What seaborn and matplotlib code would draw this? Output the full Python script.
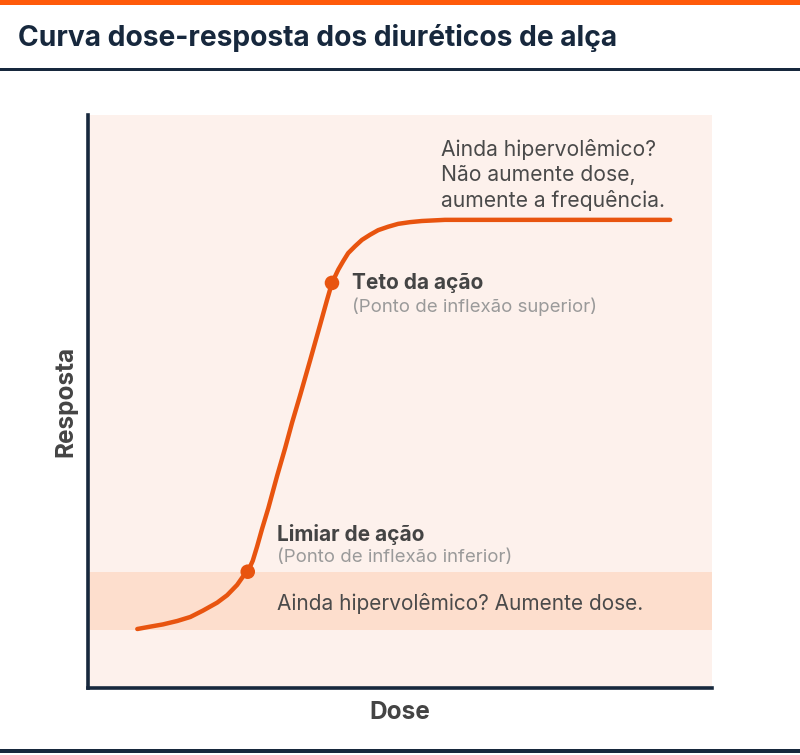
import matplotlib
matplotlib.use("Agg")
import matplotlib.pyplot as plt
import seaborn as sns
import pandas as pd

# ---- data ----
dose = [7.9, 9.9, 12.0, 14.3, 16.4, 18.4, 20.7, 22.3, 23.9, 24.8, 25.6, 26.4, 27.1,
        27.9, 28.9, 30.3, 31.6, 32.7, 34.0, 35.6, 37.2, 38.3, 39.1, 40.1, 40.9,
        41.7, 42.8, 43.9, 45.2, 46.5, 48.1, 49.7, 51.6, 53.5, 57.2, 93.3]
resposta = [10.3, 10.7, 11.1, 11.7, 12.4, 13.5, 14.9, 16.2, 18.0, 19.4, 20.3, 22.2, 24.7,
            27.8, 31.4, 37.0, 41.9, 46.3, 51.1, 57.2, 63.4, 67.7, 70.7, 73.0, 74.5,
            75.9, 77.1, 78.2, 79.1, 79.9, 80.5, 81.0, 81.3, 81.5, 81.7, 81.7]
marker_dose = [25.6, 39.1]
marker_resp = [20.3, 70.7]
band_low, band_high = 10.1, 20.2

title = "Curva dose-resposta dos diuréticos de alça"
xlabel = "Dose"
ylabel = "Resposta"
lbl_teto = "Teto da ação"
lbl_teto_sub = "(Ponto de inflexão superior)"
lbl_limiar = "Limiar de ação"
lbl_limiar_sub = "(Ponto de inflexão inferior)"
note_low = "Ainda hipervolêmico? Aumente dose."
note_high = "Ainda hipervolêmico?\nNão aumente dose,\naumente a frequência."

ORANGE = "#E8540F"
NAVY = "#17283D"
BG = "#FDF1EC"
BAND = "#FDDECD"
DARK = "#444444"
GRAY = "#9A9A9A"

sns.set_theme(style="white")
plt.rcParams["font.family"] = ["Inter", "DejaVu Sans"]

fig = plt.figure(figsize=(8, 7.55), dpi=100)
ax = fig.add_axes([0.11, 0.0887, 0.78, 0.759])
ax.set_facecolor(BG)
ax.set_xlim(0, 100)
ax.set_ylim(0, 100)

ax.axhspan(band_low, band_high, color=BAND, lw=0, zorder=0)

df = pd.DataFrame({"dose": dose, "resposta": resposta})
sns.lineplot(data=df, x="dose", y="resposta", ax=ax, color=ORANGE, lw=3.2,
             sort=False, estimator=None, solid_capstyle="round", solid_joinstyle="round", zorder=3)
mk = pd.DataFrame({"dose": marker_dose, "resposta": marker_resp})
sns.scatterplot(data=mk, x="dose", y="resposta", ax=ax, color=ORANGE, s=110,
                edgecolor="none", zorder=4)

for s in ["top", "right"]:
    ax.spines[s].set_visible(False)
for s in ["left", "bottom"]:
    ax.spines[s].set_color(NAVY)
    ax.spines[s].set_linewidth(2.6)
ax.set_xticks([])
ax.set_yticks([])
ax.set_xlabel(xlabel, fontsize=17.5, fontweight="bold", color=DARK, labelpad=9)
ax.set_ylabel(ylabel, fontsize=17.5, fontweight="bold", color=DARK, labelpad=8)

def px(x, y):
    return ((x - 88) / 6.24, (688 - y) / 5.73)

ax.text(*px(352, 283), lbl_teto, fontsize=15, fontweight="bold", color=DARK, va="center", ha="left")
ax.text(*px(352, 307), lbl_teto_sub, fontsize=13.4, color=GRAY, va="center", ha="left")
ax.text(*px(277, 534), lbl_limiar, fontsize=15, fontweight="bold", color=DARK, va="center", ha="left")
ax.text(*px(277, 557), lbl_limiar_sub, fontsize=13.4, color=GRAY, va="center", ha="left")
ax.text(*px(277, 603), note_low, fontsize=15, color="#4A4A4A", va="center", ha="left")
ax.text(*px(441, 139), note_high, fontsize=15.2, color="#4A4A4A", va="top", ha="left", linespacing=1.3)

# header
fig.patches.append(plt.Rectangle((0, 1 - 5 / 755), 1, 5 / 755, transform=fig.transFigure,
                                 color="#FF5A0A", lw=0))
fig.patches.append(plt.Rectangle((0, 1 - 71 / 755), 1, 3 / 755, transform=fig.transFigure,
                                 color=NAVY, lw=0))
fig.patches.append(plt.Rectangle((0, 1 - 753 / 755), 1, 4 / 755, transform=fig.transFigure,
                                 color=NAVY, lw=0))
fig.text(18 / 800, 1 - 38 / 755, title, fontsize=20.3, fontweight="bold", color=NAVY,
         va="center", ha="left")

fig.savefig("out.png", dpi=100, facecolor="white")
